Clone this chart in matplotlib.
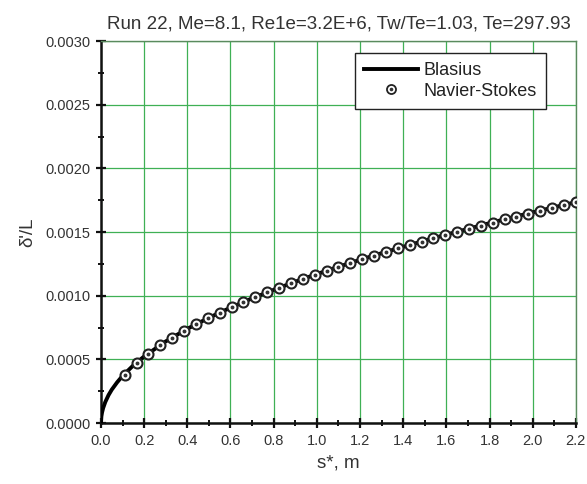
import matplotlib
matplotlib.use("Agg")
import matplotlib.pyplot as plt
from matplotlib.ticker import MultipleLocator, FormatStrFormatter
from matplotlib.lines import Line2D

plt.rcParams['font.family'] = ['Liberation Sans', 'DejaVu Sans']

title = "Run 22, Me=8.1, Re1e=3.2E+6, Tw/Te=1.03, Te=297.93"

# Blasius similarity solution
blasius_s = [0.0, 0.002, 0.005, 0.01, 0.02, 0.035, 0.05, 0.075, 0.1, 0.15, 0.2,
             0.3, 0.4, 0.5, 0.6, 0.7, 0.8, 0.9, 1.0, 1.1, 1.2, 1.3, 1.4, 1.5,
             1.6, 1.7, 1.8, 1.9, 2.0, 2.1, 2.2]
blasius_d = [0.0, 0.0000523, 0.0000827, 0.000117, 0.000165, 0.000219, 0.000262,
             0.000320, 0.000370, 0.000453, 0.000523, 0.000641, 0.000740, 0.000827,
             0.000906, 0.000979, 0.001046, 0.001110, 0.001170, 0.001227, 0.001282,
             0.001334, 0.001384, 0.001433, 0.001480, 0.001525, 0.001570, 0.001613,
             0.001655, 0.001695, 0.001735]

# Navier-Stokes computation
ns_s = [0.110, 0.165, 0.220, 0.275, 0.330, 0.385, 0.440, 0.495, 0.550, 0.605,
        0.660, 0.715, 0.770, 0.825, 0.880, 0.935, 0.990, 1.045, 1.100, 1.155,
        1.210, 1.265, 1.320, 1.375, 1.430, 1.485, 1.540, 1.595, 1.650, 1.705,
        1.760, 1.815, 1.870, 1.925, 1.980, 2.035, 2.090, 2.145, 2.200]
ns_d = [0.000380, 0.000470, 0.000545, 0.000612, 0.000670, 0.000725, 0.000775,
        0.000822, 0.000867, 0.000909, 0.000950, 0.000988, 0.001026, 0.001062,
        0.001097, 0.001130, 0.001163, 0.001195, 0.001226, 0.001256, 0.001286,
        0.001315, 0.001343, 0.001371, 0.001398, 0.001425, 0.001451, 0.001477,
        0.001502, 0.001527, 0.001551, 0.001575, 0.001599, 0.001622, 0.001645,
        0.001668, 0.001690, 0.001713, 0.001734]

green = '#3fb055'
txt = '#333333'

fig = plt.figure(figsize=(5.87, 4.84), dpi=100)
ax = fig.add_axes([0.172, 0.126, 0.809, 0.789])

ax.plot(blasius_s, blasius_d, color='black', lw=2.8, zorder=3, solid_capstyle='butt')
ax.plot(ns_s, ns_d, ls='none', marker='o', ms=7.2, mfc='white', mec='#222222',
        mew=1.5, zorder=4)
ax.plot(ns_s, ns_d, ls='none', marker='o', ms=1.8, mfc='#333333', mec='#333333',
        zorder=5)

ax.set_xlim(0, 2.2)
ax.set_ylim(0, 0.003)
ax.xaxis.set_major_locator(MultipleLocator(0.2))
ax.xaxis.set_minor_locator(MultipleLocator(0.1))
ax.yaxis.set_major_locator(MultipleLocator(0.0005))
ax.yaxis.set_minor_locator(MultipleLocator(0.00025))
ax.xaxis.set_major_formatter(FormatStrFormatter('%.1f'))
ax.yaxis.set_major_formatter(FormatStrFormatter('%.4f'))

ax.grid(True, which='major', color=green, lw=0.9)
ax.set_axisbelow(True)

ax.tick_params(which='major', direction='inout', length=7.5, width=1.6,
               color='#111111', labelsize=10.5, labelcolor=txt, pad=4)
ax.tick_params(which='minor', direction='inout', length=5, width=1.4,
               color='#111111')
ax.tick_params(top=False, right=False, which='both')

for side in ('left', 'bottom'):
    ax.spines[side].set_color('#111111')
    ax.spines[side].set_linewidth(1.8)
for side in ('top', 'right'):
    ax.spines[side].set_color('#5a8a5e')
    ax.spines[side].set_linewidth(1.0)

ax.set_xlabel("s*, m", fontsize=13.5, color=txt, labelpad=5)
ax.set_ylabel("δ'/L", fontsize=13.5, color=txt, labelpad=6)
ax.set_title(title, fontsize=13.5, color=txt, pad=9)

h_line = Line2D([], [], color='black', lw=2.8)
h_circ = Line2D([], [], ls='none', marker='o', ms=6.5, mfc='white', mec='#222222', mew=1.3)
h_dot = Line2D([], [], ls='none', marker='o', ms=1.6, mfc='#333333', mec='#333333')
leg = ax.legend([h_line, (h_circ, h_dot)], ["Blasius", "Navier-Stokes"],
                loc='upper right', bbox_to_anchor=(0.937, 0.969), fontsize=13,
                frameon=True, fancybox=False, edgecolor='#222222', framealpha=1,
                handlelength=3.0, handletextpad=0.3, borderpad=0.5,
                labelspacing=0.2, borderaxespad=0)
leg.get_frame().set_linewidth(1.0)
for t in leg.get_texts():
    t.set_color('#222222')

fig.savefig("out.png", dpi=100)
